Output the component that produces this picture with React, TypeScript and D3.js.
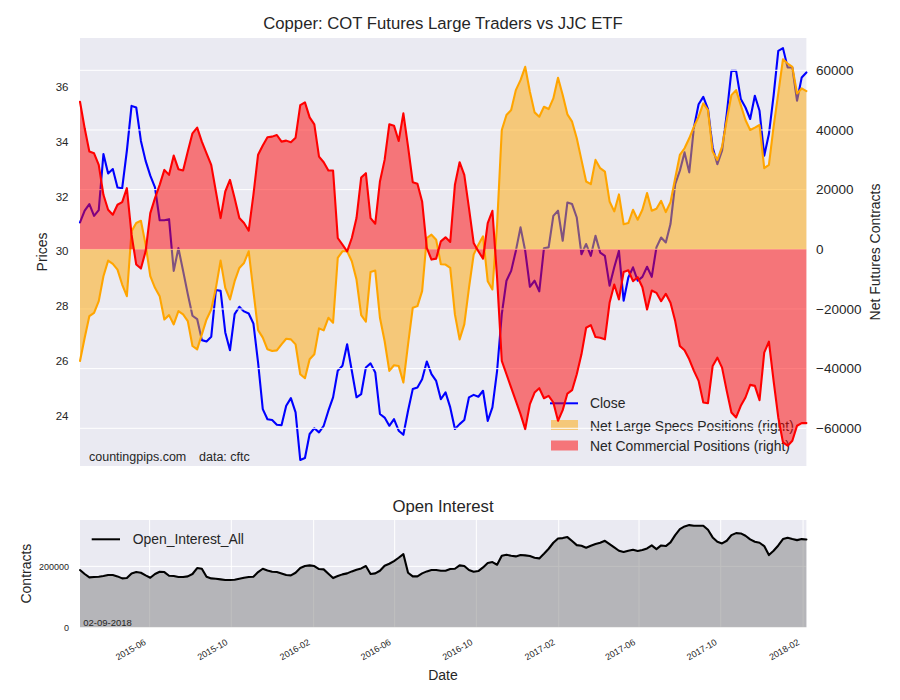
import React from "react";
import * as d3 from "d3";

// weekly COT report dates start here (Tuesday)
const START_DATE = new Date(2015, 1, 17);

const closePrice = [
  31.06, 31.49, 31.73, 31.30, 31.51, 33.56, 32.85, 33.01, 32.34, 32.31,
  33.68, 35.32, 35.26, 34.04, 33.31, 32.77, 32.34, 31.14, 31.14, 31.18,
  29.29, 30.12, 29.29, 28.44, 27.65, 27.53, 26.76, 26.71, 26.88, 28.59,
  28.56, 27.04, 26.39, 27.71, 27.98, 27.81, 27.73, 27.37, 25.94, 24.24,
  23.87, 23.84, 23.67, 23.65, 24.36, 24.64, 24.12, 22.38, 22.45, 23.33,
  23.54, 23.39, 23.63, 24.18, 24.67, 25.64, 25.82, 26.61, 25.64, 24.67,
  24.79, 25.76, 25.91, 25.58, 24.06, 23.93, 23.63, 23.87, 23.45, 23.30,
  24.18, 24.97, 25.03, 25.33, 25.98, 25.52, 25.27, 24.60, 24.85, 24.30,
  23.51, 23.69, 23.84, 24.67, 24.76, 24.69, 24.91, 23.81, 24.30, 25.64,
  27.71, 28.93, 29.29, 30.02, 30.88, 30.02, 28.71, 28.93, 28.54, 30.12,
  30.15, 31.30, 31.49, 30.39, 31.79, 31.73, 31.24, 29.90, 30.27, 29.84,
  30.57, 29.96, 29.84, 28.75, 29.42, 30.02, 28.20, 29.05, 29.42, 28.93,
  29.07, 29.44, 29.07, 30.15, 30.51, 30.33, 31.00, 32.46, 32.95, 33.62,
  32.89, 34.53, 35.38, 35.65, 35.20, 33.80, 33.19, 33.68, 35.02, 36.60,
  36.60, 35.57, 35.26, 34.84, 35.69, 35.14, 33.50, 34.29, 35.69, 37.33,
  37.43, 36.72, 36.72, 35.51, 36.36, 36.54,
];

const largeSpecs = [
  -37430, -29630, -22390, -21280, -17380, -9020, -3790, -4900, -6800, -11810,
  -15710, 6020, 8800, 9580, 1560, -9020, -12920, -15710, -23510, -22060,
  -25180, -20720, -21830, -24060, -32420, -33530, -28520, -23510, -20160, -12920,
  -3790, -12920, -16820, -10690, -6240, -4570, -670, -14040, -27100, -29600,
  -33530, -34090, -33870, -31860, -29970, -30190, -31860, -41890, -43220, -36870,
  -35200, -26510, -27180, -22950, -24620, -2900, -670, -670, -4010, -10140,
  -22060, -24290, -7580, -7130, -22950, -30750, -40770, -38880, -39100, -44670,
  -31860, -19610, -19050, -14040, 3790, 4900, 3230, -5000, -5120, -6240,
  -21830, -30190, -25180, -12920, -1780, 1560, 4340, -10690, -13480, 8240,
  39990, 45000, 46680, 53360, 56700, 61160, 52800, 45900, 44450, 47790,
  47010, 50580, 57480, 51690, 45230, 42780, 37210, 29970, 22730, 21830,
  29970, 27180, 26070, 16040, 12700, 18400, 8400, 8800, 13260, 9910,
  13260, 18830, 12920, 13590, 16260, 12480, 15820, 23840, 31640, 33870,
  37210, 41110, 44450, 48900, 46680, 32750, 29970, 34420, 43330, 51690,
  53360, 48350, 43330, 39990, 40770, 41660, 27180, 28300, 41110, 52250,
  63720, 62270, 61160, 52250, 53920, 53030,
];

const commercial = [
  49460, 40550, 32750, 32190, 28300, 18270, 13260, 11590, 14930, 15820,
  20500, 4900, -5120, -6460, -670, 12140, 17150, 21610, 26620, 24950,
  31410, 26850, 26400, 32750, 38880, 40770, 36090, 32190, 28300, 19380,
  10470, 19380, 23280, 17150, 10470, 8800, 6240, 18270, 31700, 34800,
  37540, 37770, 38320, 36090, 36430, 35870, 37430, 48350, 49240, 44230,
  41890, 31080, 29190, 26400, 26400, 3790, 1560, -670, 3790, 10470,
  24060, 25510, 10470, 8580, 22730, 29970, 41890, 41440, 36320, 45560,
  34420, 22500, 21950, 16040, 450, -3450, -3120, 2670, 4010, 2450,
  21610, 29190, 24950, 13810, 2120, -670, -3120, 8800, 12920, -9580,
  -37430, -41890, -46340, -50800, -55250, -60270, -51910, -48010, -46570, -49910,
  -49130, -51360, -57480, -53920, -48350, -47230, -41890, -35200, -26290, -25400,
  -29410, -29630, -30190, -17940, -11810, -16800, -7600, -7020, -10690, -9360,
  -12700, -20160, -13810, -14590, -17380, -14930, -17940, -24060, -32420, -33870,
  -36870, -40770, -44110, -51360, -51580, -39100, -36320, -39660, -47460, -54700,
  -56370, -52470, -49680, -45450, -45790, -50580, -34650, -30970, -44110, -56370,
  -64720, -65840, -64170, -59150, -58260, -58260,
];

const openInterest = [
  187900, 175000, 163800, 164900, 166000, 168200, 171500, 171500, 167100, 160500,
  161600, 176900, 181300, 179100, 170400, 162700, 175000, 182400, 181300, 169300,
  168200, 164900, 164900, 167100, 175000, 194400, 192200, 166000, 160500, 159500,
  157300, 155100, 155100, 156200, 159500, 162700, 164900, 166000, 181300, 192200,
  186800, 182400, 181300, 176900, 171500, 170400, 179100, 194400, 201000, 203200,
  201000, 191100, 190100, 175800, 161600, 168200, 173700, 176900, 183500, 189000,
  193300, 201000, 175000, 176900, 185700, 202100, 208600, 217400, 228300, 240300,
  179100, 167100, 167100, 176900, 183500, 188000, 187900, 185700, 185700, 191100,
  192200, 203200, 201000, 187900, 182400, 184600, 196600, 210800, 214100, 205400,
  234900, 238100, 234900, 232700, 237100, 236000, 233800, 228300, 226100, 241400,
  257800, 277500, 291700, 292800, 296100, 283000, 269800, 267700, 261100, 267700,
  273100, 277500, 284000, 273100, 262200, 251300, 246900, 251300, 254500, 250200,
  253400, 258900, 268700, 256700, 268700, 266600, 278600, 302600, 322300, 331000,
  335400, 333200, 333200, 333200, 320100, 295000, 280800, 275300, 284000, 302600,
  309200, 308100, 300400, 288400, 280800, 277500, 266600, 237100, 251300, 268700,
  289500, 293900, 289500, 286200, 289500, 288400,
];

const priceTicks = [24, 26, 28, 30, 32, 34, 36];
const netTicks = [-60000, -40000, -20000, 0, 20000, 40000, 60000];
const oiTicks = [0, 200000];
const dateTickLabels = [
  "2015-06", "2015-10", "2016-02", "2016-06", "2016-10",
  "2017-02", "2017-06", "2017-10", "2018-02",
];

const dates = closePrice.map((_, i) => d3.timeDay.offset(START_DATE, i * 7));

const FONT = "'Liberation Sans', Arial, sans-serif";
const TXT = "#262626";
const BG = "#EAEAF2";

export default function App() {
  const W = 900;
  const H = 700;
  const L = 80;
  const R = 806.4;
  const T1 = 38;
  const B1 = 466;
  const T2 = 520;
  const B2 = 627.3;

  const x = d3.scaleTime().domain([dates[0], dates[dates.length - 1]]).range([L, R]);
  const yL = d3.scaleLinear().domain([22.16, 37.8]).range([B1, T1]);
  const yR = d3.scaleLinear().domain([-72640, 70830]).range([B1, T1]);
  const yO = d3
    .scaleLinear()
    .domain([0, (d3.max(openInterest) as number) * 1.05])
    .range([B2, T2]);

  const idx = d3.range(dates.length);

  const closeLine = d3
    .line<number>()
    .x((i) => x(dates[i]))
    .y((i) => yL(closePrice[i]))(idx) as string;

  const areaOf = (arr: number[]) =>
    d3
      .area<number>()
      .x((i) => x(dates[i]))
      .y0(yR(0))
      .y1((i) => yR(arr[i]))(idx) as string;
  const lineOf = (arr: number[]) =>
    d3
      .line<number>()
      .x((i) => x(dates[i]))
      .y((i) => yR(arr[i]))(idx) as string;

  const oiArea = d3
    .area<number>()
    .x((i) => x(dates[i]))
    .y0(yO(0))
    .y1((i) => yO(openInterest[i]))(idx) as string;
  const oiLine = d3
    .line<number>()
    .x((i) => x(dates[i]))
    .y((i) => yO(openInterest[i]))(idx) as string;

  const dateTicks = dateTickLabels.map((s) => {
    const [yy, mm] = s.split("-").map(Number);
    return { label: s, d: new Date(yy, mm - 1, 1) };
  });

  const fmt = d3.format("d");
  const lineProps = { fill: "none", strokeWidth: 2.1, strokeLinejoin: "round" as const, strokeLinecap: "round" as const };

  return (
    <svg
      width={W}
      height={H}
      style={{ position: "absolute", left: 0, top: 0, background: "#fff" }}
      fontFamily={FONT}
    >
      {/* Title */}
      <text x={443} y={29} textAnchor="middle" fontSize={16.7} fill={TXT}>
        Copper: COT Futures Large Traders vs JJC ETF
      </text>

      {/* Top panel background */}
      <rect x={L} y={T1} width={R - L} height={B1 - T1} fill={BG} />

      {/* left axis: price line */}
      <path d={closeLine} stroke="blue" {...lineProps} />

      {/* left tick labels */}
      {priceTicks.map((t) => (
        <text key={t} x={68.5} y={yL(t) + 4} textAnchor="end" fontSize={11.5} fill={TXT}>
          {t}
        </text>
      ))}
      <text transform={`translate(47,252) rotate(-90)`} textAnchor="middle" fontSize={14} fill={TXT}>
        Prices
      </text>

      {/* watermark */}
      <text x={89} y={460.5} fontSize={12.5} fill={TXT}>
        countingpips.com
      </text>
      <text x={199} y={460.5} fontSize={12.5} fill={TXT}>
        data: cftc
      </text>

      {/* legend (belongs to left axes, under right axes content) */}
      <line x1={550} x2={578} y1={403.3} y2={403.3} stroke="blue" strokeWidth={2} />
      <text x={590} y={408.3} fontSize={13.9} fill={TXT}>
        Close
      </text>
      <rect x={551} y={420} width={27} height={10} fill="orange" fillOpacity={0.5} />
      <text x={590} y={430.5} fontSize={13.9} fill={TXT}>
        Net Large Specs Positions (right)
      </text>
      <rect x={551} y={440.5} width={27} height={10} fill="red" fillOpacity={0.5} />
      <text x={590} y={450.5} fontSize={13.9} fill={TXT}>
        Net Commercial Positions (right)
      </text>

      {/* right axis grid */}
      {netTicks.map((t) => (
        <line key={t} x1={L} x2={R} y1={yR(t)} y2={yR(t)} stroke="#fff" strokeWidth={1} />
      ))}

      {/* right axis fills and lines */}
      <path d={areaOf(largeSpecs)} fill="orange" fillOpacity={0.5} stroke="none" />
      <path d={lineOf(largeSpecs)} stroke="orange" {...lineProps} />
      <path d={areaOf(commercial)} fill="red" fillOpacity={0.5} stroke="none" />
      <path d={lineOf(commercial)} stroke="red" {...lineProps} />

      {/* right tick labels */}
      {netTicks.map((t) => (
        <text key={t} x={816} y={yR(t) + 4.8} fontSize={13.5} fill={TXT}>
          {fmt(t)}
        </text>
      ))}
      <text transform={`translate(879.5,252) rotate(-90)`} textAnchor="middle" fontSize={14} fill={TXT}>
        Net Futures Contracts
      </text>

      {/* Bottom panel */}
      <text x={443} y={512} textAnchor="middle" fontSize={16.7} fill={TXT}>
        Open Interest
      </text>
      <rect x={L} y={T2} width={R - L} height={B2 - T2} fill={BG} />
      {dateTicks.map((t) => (
        <line key={t.label} x1={x(t.d)} x2={x(t.d)} y1={T2} y2={B2} stroke="#fff" strokeWidth={1} />
      ))}
      {oiTicks.map((t) => (
        <line key={t} x1={L} x2={R} y1={yO(t)} y2={yO(t)} stroke="#fff" strokeWidth={1} />
      ))}
      <path d={oiArea} fill="gray" fillOpacity={0.5} stroke="none" />
      <path d={oiLine} stroke="black" {...lineProps} />

      {oiTicks.map((t) => (
        <text key={t} x={69} y={yO(t) + 3.2} textAnchor="end" fontSize={9} fill={TXT}>
          {fmt(t)}
        </text>
      ))}
      <text transform={`translate(31,573.6) rotate(-90)`} textAnchor="middle" fontSize={14} fill={TXT}>
        Contracts
      </text>

      {dateTicks.map((t) => (
        <text
          key={t.label}
          transform={`translate(${x(t.d) - 3},644) rotate(-30)`}
          textAnchor="end"
          fontSize={9}
          fill={TXT}
        >
          {t.label}
        </text>
      ))}
      <text x={443} y={680} textAnchor="middle" fontSize={14} fill={TXT}>
        Date
      </text>

      <text x={83.3} y={626} fontSize={9.5} fill={TXT}>
        02-09-2018
      </text>

      {/* bottom legend */}
      <line x1={91.7} x2={120} y1={539.3} y2={539.3} stroke="black" strokeWidth={2} />
      <text x={132.7} y={544.3} fontSize={13.9} fill={TXT}>
        Open_Interest_All
      </text>
    </svg>
  );
}
